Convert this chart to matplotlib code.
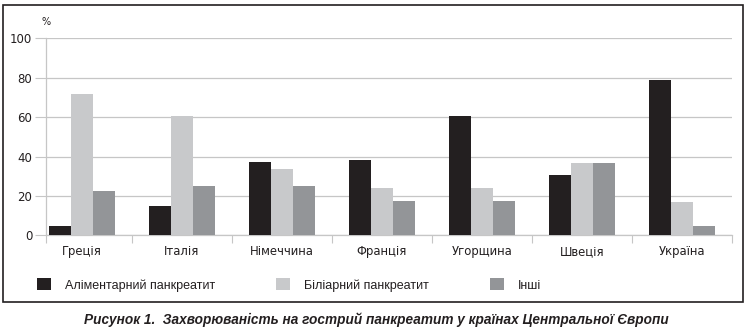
import matplotlib
matplotlib.use("Agg")
import matplotlib.pyplot as plt
from matplotlib.patches import Rectangle
from matplotlib.ticker import FixedLocator
import numpy as np

countries = ["Греція", "Італія", "Німеччина", "Франція", "Угорщина", "Швеція", "Україна"]
alimentary = [4.7, 15, 37.2, 38.2, 60.6, 30.6, 78.8]
biliary = [71.7, 60.6, 33.7, 24, 24, 36.7, 16.9]
other = [22.5, 25, 25, 17.4, 17.4, 36.7, 4.7]

series_names = ["Аліментарний панкреатит", "Біліарний панкреатит", "Інші"]
series_colors = ["#231f20", "#c8c9cb", "#939598"]
yticks = [0, 20, 40, 60, 80, 100]
caption = "Рисунок 1.  Захворюваність на гострий панкреатит у країнах Центральної Європи"

narrow = ["Liberation Sans Narrow", "Liberation Sans", "DejaVu Sans"]
grid_gray = "#c6c6c6"

fig = plt.figure(figsize=(7.47, 3.31), dpi=100)
ax = fig.add_axes([0.0616, 0.2891, 0.9179, 0.5952])

x = np.arange(len(countries))
w = 0.22
for k, (vals, name, col) in enumerate(zip([alimentary, biliary, other], series_names, series_colors)):
    ax.bar(x + (k - 1) * w, vals, width=w, color=col, label=name, zorder=3)

xmin, xmax = -0.36, 6.5
ax.set_xlim(xmin, xmax)
ax.set_ylim(0, 100)

ax.set_yticks(yticks)
ax.yaxis.grid(True, color=grid_gray, linewidth=0.9, zorder=0)
ax.tick_params(axis="y", length=8, width=0.8, color=grid_gray, pad=2,
               labelsize=8.5, labelcolor="#231f20")

ax.set_xticks(x)
ax.set_xticklabels(countries, fontsize=8.4, color="#231f20")
ax.xaxis.set_minor_locator(FixedLocator([xmin] + list(np.arange(0.5, 7, 1.0))))
ax.tick_params(axis="x", which="major", length=0, pad=7)
ax.tick_params(axis="x", which="minor", length=5.5, width=0.8, color=grid_gray)

for s in ["top", "right"]:
    ax.spines[s].set_visible(False)
for s in ["left", "bottom"]:
    ax.spines[s].set_color(grid_gray)
    ax.spines[s].set_linewidth(0.9)

ax.text(0.0, 1.085, "%", transform=ax.transAxes, ha="center", va="center",
        fontsize=7, color="#231f20")

# legend below the plot
leg = fig.legend(loc="center left", bbox_to_anchor=(0.049, 0.139), ncol=3,
                 frameon=False, handlelength=1.12, handleheight=1.12,
                 handletextpad=1.12, columnspacing=4.9, borderpad=0,
                 borderaxespad=0, prop={"family": narrow, "size": 9})
for t in leg.get_texts():
    t.set_color("#231f20")

# outer frame
fig.add_artist(Rectangle((0.0034, 0.0876), 0.9908, 0.8988, transform=fig.transFigure,
                         fill=False, edgecolor="#231f20", linewidth=1.2))

fig.text(0.504, 0.033, caption, ha="center", va="center", fontsize=9.8,
         fontweight="bold", fontstyle="italic", family=narrow, color="#231f20")

fig.savefig("out.png", dpi=100)
